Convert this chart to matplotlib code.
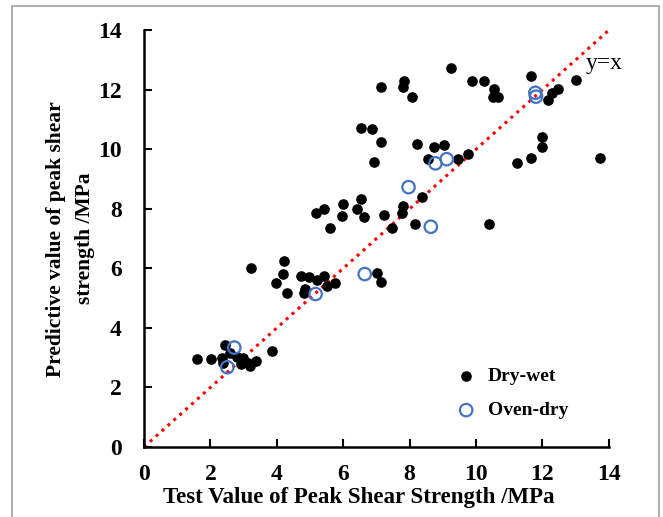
import matplotlib
matplotlib.use("Agg")
import matplotlib.pyplot as plt
from matplotlib.patches import Rectangle

# Dry-wet (black filled) points
dry_x = [3.22, 4.22, 4.18, 3.99, 4.30, 4.72, 4.98, 5.20, 5.43, 5.76, 5.50, 4.85, 4.81,
         7.01, 7.13,
         1.59, 2.01, 2.36, 2.44, 2.37, 2.59, 2.79, 2.99, 3.14, 2.92, 3.36, 3.19, 3.87,
         9.24, 7.84, 7.81, 7.14, 8.08, 9.89, 10.24, 10.55, 10.50, 10.68, 11.66, 12.17,
         12.29, 12.47, 13.00,
         7.14, 8.21, 8.75, 9.05, 8.57, 9.47, 9.77, 12.00, 12.00, 11.66, 11.25, 13.73,
         8.37, 7.81, 7.76, 7.23, 7.48, 8.17, 10.39,
         6.54, 6.88, 6.92, 5.17, 5.43, 6.00, 5.98, 6.54, 6.41, 6.62, 5.60]
dry_y = [6.02, 6.26, 5.80, 5.50, 5.18, 5.74, 5.71, 5.60, 5.73, 5.50, 5.41, 5.30, 5.19,
         5.86, 5.56,
         2.95, 2.95, 2.98, 3.43, 2.81, 3.15, 3.03, 2.98, 2.81, 2.79, 2.89, 2.72, 3.24,
         12.75, 12.31, 12.09, 12.11, 11.76, 12.30, 12.28, 12.03, 11.76, 11.76, 12.47, 11.66,
         11.90, 12.02, 12.33,
         10.24, 10.18, 10.07, 10.15, 9.68, 9.69, 9.83, 10.43, 10.08, 9.72, 9.53, 9.72,
         8.41, 8.10, 7.87, 7.80, 7.35, 7.49, 7.49,
         10.72, 10.69, 9.59, 7.87, 8.01, 8.17, 7.77, 8.34, 8.01, 7.74, 7.37]

# Oven-dry (open blue) points
oven_x = [2.72, 2.51, 5.17, 6.65, 7.97, 8.64, 8.78, 9.12, 11.79, 11.81]
oven_y = [3.34, 2.68, 5.14, 5.81, 8.73, 7.40, 9.53, 9.67, 11.90, 11.77]

line_x = [0, 14]
line_y = [0, 14]

x_ticks = [0, 2, 4, 6, 8, 10, 12, 14]
y_ticks = [0, 2, 4, 6, 8, 10, 12, 14]

serif = ["Liberation Serif", "DejaVu Serif"]

fig = plt.figure(figsize=(6.63, 5.17), dpi=100)
fig.patches.append(Rectangle((12 / 663, -0.1), (659 - 12) / 663, 1.1 - 6 / 517,
                             transform=fig.transFigure, fill=False,
                             edgecolor="#a0a0a0", linewidth=1.2))
ax = fig.add_axes([144 / 663, 1 - 447 / 517, (608.7 - 144) / 663, (447 - 30.3) / 517])

ax.plot(line_x, line_y, linestyle=(0, (1, 1.6)), color="red", linewidth=2.2, zorder=1)
ax.scatter(dry_x, dry_y, s=44, color="black", zorder=3, label="Dry-wet")
ax.scatter(oven_x, oven_y, s=80, facecolors="none", edgecolors="#4472C4",
           linewidths=1.6, zorder=4, label="Oven-dry")

ax.set_xlim(0, 14)
ax.set_ylim(0, 14)
ax.set_xticks(x_ticks)
ax.set_yticks(y_ticks)
ax.spines["top"].set_visible(False)
ax.spines["right"].set_visible(False)
for s in ["left", "bottom"]:
    ax.spines[s].set_linewidth(1.8)
ax.tick_params(direction="in", length=6, width=1.5, labelsize=17)
ax.tick_params(axis="x", pad=12)
ax.tick_params(axis="y", pad=16)
for lab in ax.get_xticklabels() + ax.get_yticklabels():
    lab.set_family(serif)
    lab.set_fontweight("bold")

ax.set_xlabel("Test Value of Peak Shear Strength /MPa", fontsize=16.5,
              fontweight="bold", family=serif)
ax.xaxis.set_label_coords(0.463, -0.122)
ax.xaxis.label.set_va("center")
ax.set_ylabel("Predictive value of peak shear\nstrength /MPa", fontsize=15.5,
              fontweight="bold", family=serif, linespacing=1.55)
ax.yaxis.set_label_coords(-0.158, 0.5)
ax.yaxis.label.set_va("center")

ax.text(13.3, 12.7, "y=x", fontsize=17, family=serif)

leg = ax.legend(loc="lower right", bbox_to_anchor=(0.929, 0.048), frameon=False,
                prop={"family": serif, "weight": "bold", "size": 14},
                handletextpad=0.6, labelspacing=0.85, handlelength=1.0,
                borderaxespad=0.0)

fig.savefig("out.png", dpi=100)
